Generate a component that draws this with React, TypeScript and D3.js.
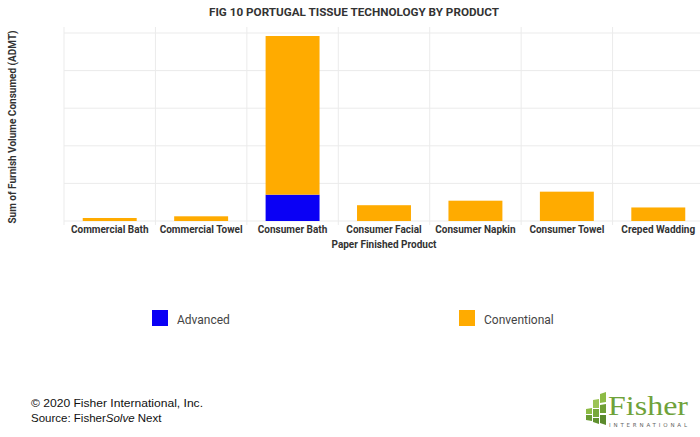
import React from "react";
import * as d3 from "d3";

const categories = [
  "Commercial Bath",
  "Commercial Towel",
  "Consumer Bath",
  "Consumer Facial",
  "Consumer Napkin",
  "Consumer Towel",
  "Creped Wadding",
];
const advanced = [0, 0, 0.7, 0, 0, 0, 0];
const conventional = [0.08, 0.125, 4.22, 0.42, 0.54, 0.78, 0.36];
const seriesNames = ["Advanced", "Conventional"];
const yTicks = [0, 1, 2, 3, 4, 5];

const W = 700;
const H = 437;
const left = 64;
const right = 704;
const top = 33;
const bottom = 221;

export default function App() {
  const x = d3.scaleBand<string>().domain(categories).range([left, right]).paddingInner(0.41).paddingOuter(0.205);
  const band = d3.scaleBand<string>().domain(categories).range([left, right]);
  const y = d3.scaleLinear().domain([0, 5]).range([bottom, top]);
  const colors = ["#0a00f5", "#ffab00"];

  const stackData = categories.map((c, i) => ({ cat: c, Advanced: advanced[i], Conventional: conventional[i] }));
  const stacks = d3.stack<any>().keys(seriesNames)(stackData);

  return (
    <svg width={W} height={H} style={{ position: "absolute", left: 0, top: 0, background: "#fff" }}>
      <rect width={W} height={H} fill="#fff" />
      <text x={354} y={16} textAnchor="middle" fontFamily="Roboto" fontWeight="bold" fontSize={11.5} fill="#333" textLength={290} lengthAdjust="spacingAndGlyphs">
        FIG 10 PORTUGAL TISSUE TECHNOLOGY BY PRODUCT
      </text>
      {/* grid */}
      {yTicks.map((t) => (
        <line key={"h" + t} x1={left} x2={W} y1={y(t)} y2={y(t)} stroke="#ebebeb" strokeWidth={1} />
      ))}
      {categories.map((c) => (
        <line key={"v" + c} x1={band(c)!} x2={band(c)!} y1={top - 6} y2={bottom + 4} stroke="#ebebeb" strokeWidth={1} />
      ))}
      {/* bars */}
      {stacks.map((s, si) =>
        s.map((d: any, i: number) => {
          const h = y(d[0]) - y(d[1]);
          if (h <= 0) return null;
          return <rect key={si + "-" + i} x={x(categories[i])!} width={x.bandwidth()} y={y(d[1])} height={h} fill={colors[si]} />;
        })
      )}
      {/* x labels */}
      {categories.map((c) => (
        <text key={"l" + c} x={band(c)! + band.bandwidth() / 2} y={233} textAnchor="middle" fontFamily="Roboto" fontWeight="bold" fontSize={10} fill="#333">
          {c}
        </text>
      ))}
      <text x={384} y={248} textAnchor="middle" fontFamily="Roboto" fontWeight="bold" fontSize={10} fill="#333">
        Paper Finished Product
      </text>
      <text transform={`translate(16,${(top + bottom) / 2}) rotate(-90)`} textAnchor="middle" fontFamily="Roboto" fontWeight="bold" fontSize={10} fill="#333">
        Sum of Furnish Volume Consumed (ADMT)
      </text>
      {/* legend */}
      <rect x={152} y={310} width={16} height={16} fill={colors[0]} />
      <text x={177} y={324} fontFamily="Roboto" fontSize={12} fill="#444">{seriesNames[0]}</text>
      <rect x={459} y={310} width={16} height={16} fill={colors[1]} />
      <text x={484} y={324} fontFamily="Roboto" fontSize={12} fill="#444">{seriesNames[1]}</text>
      {/* footer */}
      <text x={31} y={407} fontFamily="Liberation Sans, Arial" fontSize={11.5} fill="#111" textLength={172} lengthAdjust="spacingAndGlyphs">
        © 2020 Fisher International, Inc.
      </text>
      <text x={31} y={422} fontFamily="Liberation Sans, Arial" fontSize={11.5} fill="#111">
        Source: Fisher<tspan fontStyle="italic">Solve</tspan> Next
      </text>
      {/* logo */}
      <g>
        <polygon points="600,394 606,392 606,402 600,403" fill="#8dbb45" />
        <polygon points="600,405 606,404 606,413 600,413" fill="#6f9f35" />
        <polygon points="600,415 606,415 606,425 600,423" fill="#5b8a2c" />
        <polygon points="593,400 599,399 599,408 593,408" fill="#9cc456" />
        <polygon points="593,409 599,409 599,417 593,417" fill="#77a83a" />
        <polygon points="593,418 599,418 599,424 593,422" fill="#5f902e" />
        <polygon points="586,409 592,408 592,414 586,414" fill="#8dbb45" />
        <polygon points="586,415 592,415 592,421 586,420" fill="#6a9c33" />
      </g>
      <text x={608} y={415} fontFamily="Liberation Serif" fontSize={28} fill="#6fa23a" textLength={80} lengthAdjust="spacingAndGlyphs">
        Fisher
      </text>
      <text x={609} y={427} fontFamily="DejaVu Sans" fontSize={5.5} fill="#666" textLength={78} lengthAdjust="spacing">
        INTERNATIONAL
      </text>
    </svg>
  );
}
